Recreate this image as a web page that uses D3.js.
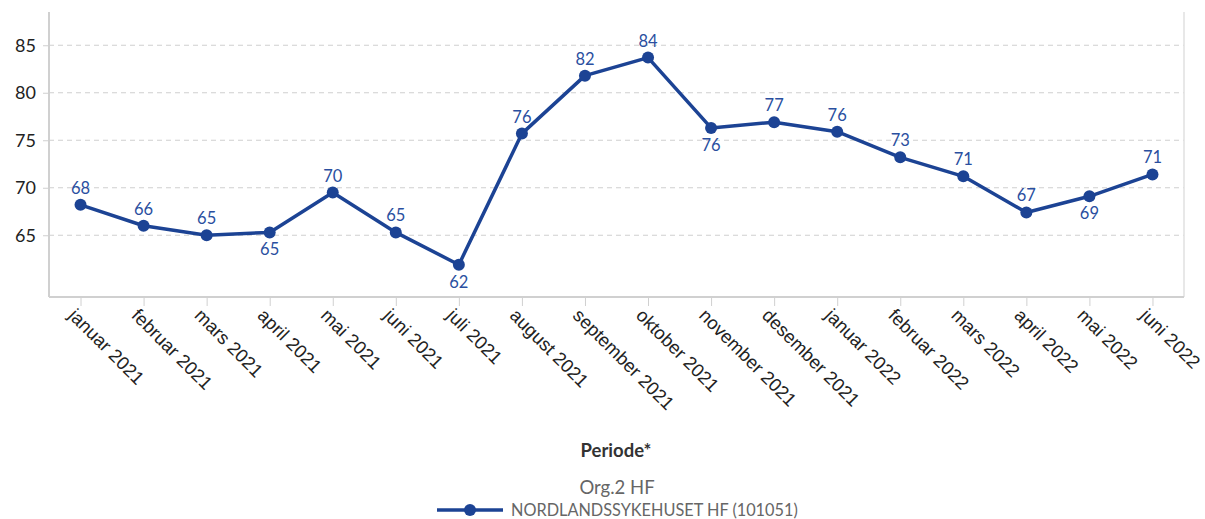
<!DOCTYPE html>
<html>
<head>
<meta charset="utf-8">
<script src="https://cdn.jsdelivr.net/npm/d3@7"></script>
<style>
  body { margin: 0; background: #fff; }
  svg { font-family: Lato, "Noto Sans", sans-serif; }
</style>
</head>
<body>
<svg id="chart" width="1205" height="519"></svg>
<script>
const months = ["januar 2021", "februar 2021", "mars 2021", "april 2021", "mai 2021", "juni 2021",
  "juli 2021", "august 2021", "september 2021", "oktober 2021", "november 2021", "desember 2021",
  "januar 2022", "februar 2022", "mars 2022", "april 2022", "mai 2022", "juni 2022"];
const values = [68.2, 66.0, 65.0, 65.3, 69.5, 65.3, 61.9, 75.7, 81.8, 83.7, 76.3, 76.9,
  75.9, 73.2, 71.2, 67.4, 69.1, 71.4];
// which labels sit below the point
const labelBelow = [false, false, false, true, false, false, true, false, false, false, true, false,
  false, false, false, false, true, false];
const yTicks = [65, 70, 75, 80, 85];
const seriesName = "NORDLANDSSYKEHUSET HF (101051)";
const legendTitle = "Org.2 HF";

const svg = d3.select("#chart"),
      margin = {top: 12, right: 21, bottom: 222, left: 49},
      width = +svg.attr("width"),
      height = +svg.attr("height");

const lineColor = "#1c4394";
const labelColor = "#2a4f9f";

const x = d3.scalePoint().domain(months).range([margin.left, width - margin.right]).padding(0.5);
const y = d3.scaleLinear().domain([58.5, 88.5]).range([height - margin.bottom, margin.top]);

// grid
svg.append("g")
  .selectAll("line")
  .data(yTicks)
  .join("line")
  .attr("x1", margin.left)
  .attr("x2", width - margin.right)
  .attr("y1", d => y(d))
  .attr("y2", d => y(d))
  .attr("stroke", "#cfcfcf")
  .attr("stroke-dasharray", "5,4");

// y axis labels + little ticks
const yAxis = d3.axisLeft(y).tickValues(yTicks).tickSize(6).tickPadding(7);
const gy = svg.append("g").attr("transform", `translate(${margin.left},0)`).call(yAxis);
gy.select(".domain").remove();
gy.selectAll(".tick line").attr("stroke", "#cfcfcf");
gy.selectAll(".tick text").attr("font-size", 18).attr("fill", "#222").attr("font-family", "Lato, sans-serif");

// frame lines
svg.append("line")
  .attr("x1", margin.left).attr("x2", margin.left)
  .attr("y1", margin.top).attr("y2", height - margin.bottom)
  .attr("stroke", "#d0d0d0").attr("stroke-width", 2);
svg.append("line")
  .attr("x1", width - margin.right).attr("x2", width - margin.right)
  .attr("y1", margin.top).attr("y2", height - margin.bottom)
  .attr("stroke", "#e0e0e0").attr("stroke-width", 1.5);

// x axis
const xAxis = d3.axisBottom(x).tickSize(9).tickPadding(6);
const gx = svg.append("g").attr("transform", `translate(0,${height - margin.bottom})`).call(xAxis);
gx.select(".domain").attr("stroke", "#d0d0d0").attr("stroke-width", 2)
  .attr("d", `M${margin.left},0H${width - margin.right}`);
gx.selectAll(".tick line").attr("stroke", "#d0d0d0");
gx.selectAll(".tick text")
  .attr("font-size", 18.5)
  .attr("fill", "#222")
  .attr("text-anchor", "start")
  .attr("dy", 0)
  .attr("transform", "translate(-3,9) rotate(45)");

// line
const line = d3.line().x((d, i) => x(months[i])).y(d => y(d));
svg.append("path")
  .datum(values)
  .attr("d", line)
  .attr("fill", "none")
  .attr("stroke", lineColor)
  .attr("stroke-width", 3.5)
  .attr("stroke-linejoin", "round");

svg.append("g")
  .selectAll("circle")
  .data(values)
  .join("circle")
  .attr("cx", (d, i) => x(months[i]))
  .attr("cy", d => y(d))
  .attr("r", 6)
  .attr("fill", lineColor);

// value labels
svg.append("g")
  .selectAll("text")
  .data(values)
  .join("text")
  .attr("x", (d, i) => x(months[i]))
  .attr("y", (d, i) => y(d) + (labelBelow[i] ? 23 : -11))
  .attr("text-anchor", "middle")
  .attr("font-size", 16.5)
  .attr("fill", labelColor)
  .text(d => Math.round(d));

// axis title
svg.append("text")
  .attr("x", 616)
  .attr("y", 457)
  .attr("text-anchor", "middle")
  .attr("font-size", 18.5)
  .attr("font-weight", "bold")
  .attr("fill", "#333")
  .text("Periode*");

// legend
svg.append("text")
  .attr("x", 617)
  .attr("y", 494)
  .attr("text-anchor", "middle")
  .attr("font-size", 18.5)
  .attr("fill", "#666")
  .text(legendTitle);

const lg = svg.append("g").attr("transform", "translate(437,510)");
lg.append("line").attr("x1", 0).attr("x2", 66).attr("y1", 0).attr("y2", 0)
  .attr("stroke", lineColor).attr("stroke-width", 3.5);
lg.append("circle").attr("cx", 33).attr("cy", 0).attr("r", 6).attr("fill", lineColor);
lg.append("text").attr("x", 74).attr("y", 5.5)
  .attr("font-size", 16.3)
  .attr("fill", "#666")
  .text(seriesName);
</script>
</body>
</html>
